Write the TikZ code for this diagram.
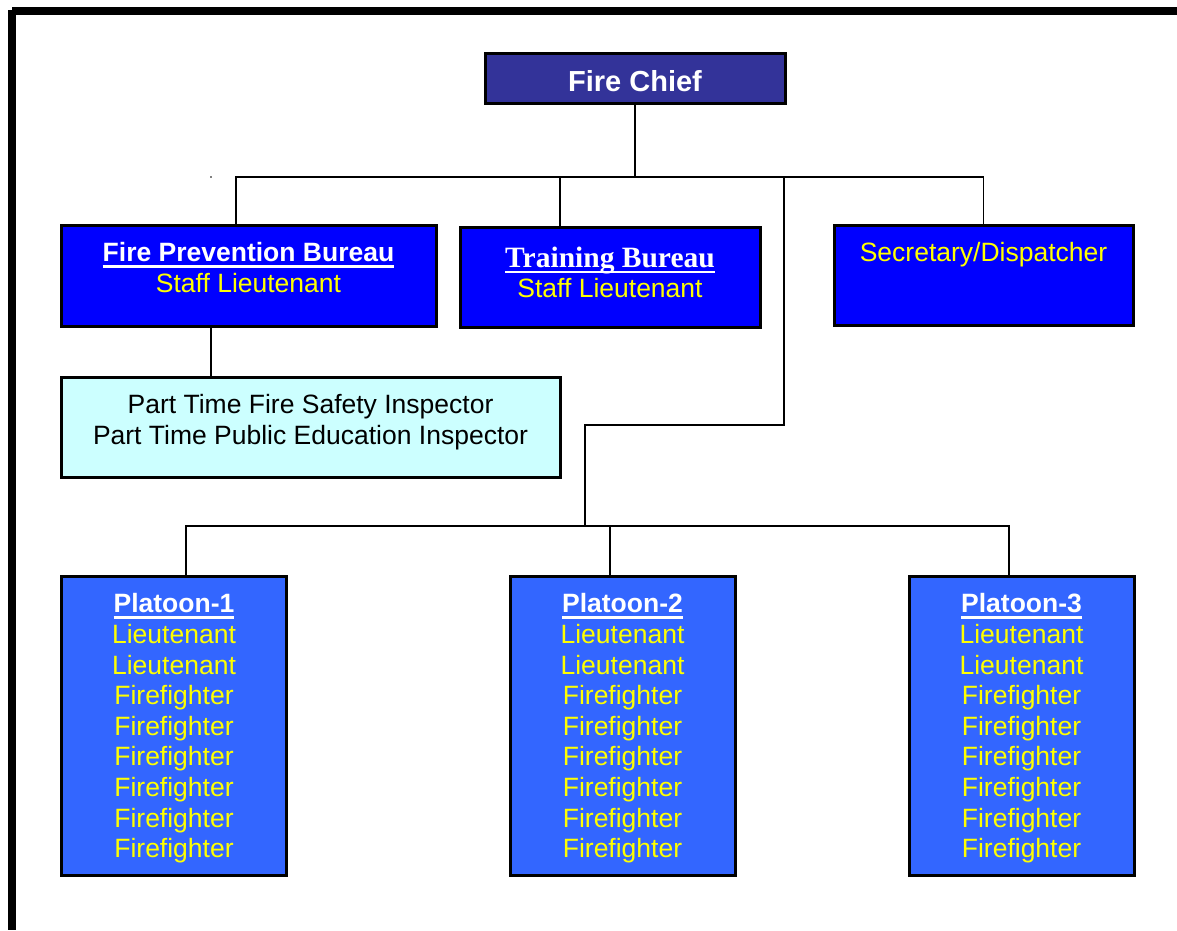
\documentclass[tikz,border=0pt]{standalone}
\usepackage{fontspec}
\setmainfont{Liberation Sans}
\newfontfamily\tmsfont{Liberation Serif}
\usetikzlibrary{positioning}

\definecolor{chiefblue}{HTML}{333399}
\definecolor{bureaublue}{HTML}{0000FF}
\definecolor{platoonblue}{HTML}{3366FF}
\definecolor{inspcyan}{HTML}{CCFFFF}
\definecolor{txtyellow}{HTML}{FFFF00}

\newsavebox\undlbox
\newcommand\undl[1]{\sbox\undlbox{#1}\rlap{\rule[-6pt]{\wd\undlbox}{2.5pt}}\usebox\undlbox}

\tikzset{
  orgfont/.style={font=\fontsize{26.5}{30.6}\selectfont},
  orgbox/.style={draw=black, line width=3pt, inner sep=0pt, orgfont},
  bureaubox/.style={orgbox, fill=bureaublue, minimum height=100pt},
  boxtext/.style={align=center, inner sep=0pt, text=txtyellow, orgfont},
  link/.style={line width=1.5pt}
}

\begin{document}
\begin{tikzpicture}[
  x=1pt,
  y=-1pt
]
\useasboundingbox (0,0) rectangle (1177,930);

% page frame
\fill (7.5,10) rectangle (15.5,930);
\fill (11.5,7) rectangle (1177,15);

% top
\node [orgbox, fill=chiefblue, minimum width=300pt, minimum height=50pt,
       text=white, font=\fontsize{29}{33}\selectfont\bfseries,
       text height=27pt, text depth=0pt] (chief) at (635,78) {Fire Chief};

% bureaus
\node [bureaubox, minimum width=375pt, minimum height=101pt] (fpb) at (248.5,275.5) {};
\node [boxtext, below=19pt of fpb.north] (fpb-t)
      {{\color{white}\bfseries\undl{Fire Prevention Bureau}}\\Staff Lieutenant};

\node [bureaubox, minimum width=300pt] (train) at (610,277) {};
\node [boxtext, below=21pt of train.north] (train-t)
      {{\color{white}\tmsfont\bfseries\fontsize{29.5}{30.6}\selectfont\undl{Training Bureau}}\\Staff Lieutenant};

\node [bureaubox, minimum width=299pt] (sec) at (983.5,275) {};
\node [boxtext, below=18.5pt of sec.north] (sec-t) {Secretary/Dispatcher};

\node [orgbox, fill=inspcyan, minimum width=499pt, minimum height=100pt] (pt) at (310.5,427) {};
\node [boxtext, text=black, below=18.5pt of pt.north] (pt-t)
      {Part Time Fire Safety Inspector\\Part Time Public Education Inspector};

% platoons
\foreach \n/\x in {1/174, 2/622.5, 3/1021.5}
  {
   \node [orgbox, fill=platoonblue, minimum width=225pt, minimum height=299pt,
          align=center, text=txtyellow] (plt-\n) at (\x,725.5)
         {\rule{0pt}{25pt}{\color{white}\bfseries\undl{Platoon-\n}}\\Lieutenant\\Lieutenant\\
          Firefighter\\Firefighter\\Firefighter\\Firefighter\\Firefighter\\Firefighter};
  }

% connectors
\coordinate (busA) at (0,177);
\coordinate (busB) at (0,526);
\coordinate (ops-top) at (784,177);
\coordinate (ops-jog) at (585,425);

\draw [link] (chief.south) -- (chief.south |- busA);
\draw [link] ([xshift=-12.5pt]fpb.north) |- (sec.north |- busA) -- (sec.north);
\draw [link] ([xshift=-50pt]train.north) -- ([xshift=-50pt]train.north |- busA);
\draw [link] ([xshift=-37.5pt]fpb.south) -- ([xshift=-37.5pt]fpb.south |- pt.north);
\draw [link] (ops-top) |- (ops-jog) -- (ops-jog |- busB);
\draw [link] ([xshift=12pt]plt-1.north) |- ([xshift=-12.5pt]plt-3.north |- busB)
             -- ([xshift=-12.5pt]plt-3.north);
\draw [link] ([xshift=-12.5pt]plt-2.north) -- ([xshift=-12.5pt]plt-2.north |- busB);

% stray mark
\fill (211,177) circle (0.9pt);

\end{tikzpicture}
\end{document}
